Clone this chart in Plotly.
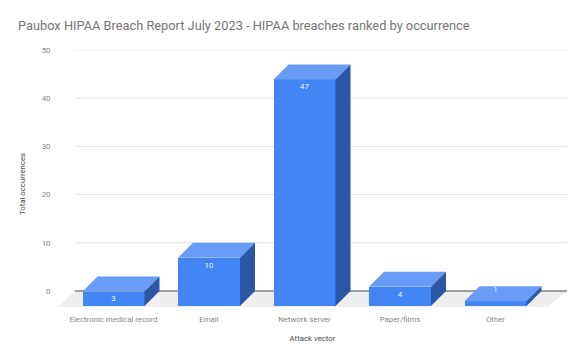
import plotly.graph_objects as go

title = "Paubox HIPAA Breach Report July 2023 - HIPAA breaches ranked by occurrence"
categories = ["Electronic medical record", "Email", "Network server", "Paper/films", "Other"]
values = [3, 10, 47, 4, 1]
y_ticks = [0, 10, 20, 30, 40, 50]
x_title = "Attack vector"
y_title = "Total occurrences"

W, H = 585, 362
L, R, T, B = 58, 18, 50, 55
PX_Y = 4.82      # pixels per y unit
PX_X = 95.5      # pixels per category
DEPTH_Y = 15 / PX_Y
DEPTH_X = 15 / PX_X
HALF = 31 / PX_X
x0 = (L - 113.5) / PX_X
x1 = (W - R - 113.5) / PX_X
y0 = -(H - B - 291) / PX_Y
y_top = 50
SMALL = 7.8
GREY = "#858585"
DARK = "#4A4A4A"

FRONT, TOP, SIDE = "#4285F4", "#689CF6", "#2A56A4"

idx = list(range(len(categories)))
fig = go.Figure()

fig.add_trace(go.Bar(x=idx, y=values, base=[-DEPTH_Y] * len(values), width=2 * HALF,
                     marker=dict(color=FRONT, line=dict(width=0)), hoverinfo="skip", showlegend=False))

for i, v in zip(idx, values):
    top_y = v - DEPTH_Y
    fig.add_trace(go.Scatter(
        x=[i - HALF, i + HALF, i + HALF + DEPTH_X, i - HALF + DEPTH_X, i - HALF],
        y=[top_y, top_y, v, v, top_y],
        mode="lines", fill="toself", fillcolor=TOP, line=dict(width=0),
        hoverinfo="skip", showlegend=False))
    fig.add_trace(go.Scatter(
        x=[i + HALF, i + HALF + DEPTH_X, i + HALF + DEPTH_X, i + HALF, i + HALF],
        y=[top_y, v, 0, -DEPTH_Y, top_y],
        mode="lines", fill="toself", fillcolor=SIDE, line=dict(width=0),
        hoverinfo="skip", showlegend=False))

# labels sit just inside the front face; if it is too short they go on the top face
label_y = [v - DEPTH_Y - 8 / PX_Y if v > 2 else v - 3.5 / PX_Y for v in values]
fig.add_trace(go.Scatter(x=idx, y=label_y, mode="text", text=[str(v) for v in values],
                         textposition="middle center",
                         textfont=dict(family="Roboto", size=SMALL, color="#F2F6FE"),
                         hoverinfo="skip", showlegend=False))

shapes = [dict(type="path", layer="below", xref="x", yref="y", line=dict(width=0), fillcolor="#EEEEEE",
               path=f"M {x0} {y0} L {x1 - DEPTH_X * 1.27} {y0} L {x1} 0 L {x0 + DEPTH_X * 1.13} 0 Z")]
for t in y_ticks:
    shapes.append(dict(type="line", layer="below", xref="x", yref="y",
                       x0=x0 + DEPTH_X * 1.13, x1=x1, y0=t, y1=t,
                       line=dict(color="#7F7F7F" if t == 0 else "#E3E3E3", width=1.3 if t == 0 else 1)))

fig.update_layout(
    width=W, height=H, autosize=False, paper_bgcolor="white", plot_bgcolor="rgba(0,0,0,0)",
    margin=dict(l=L, r=R, t=T, b=B), bargap=0, shapes=shapes, showlegend=False,
    font=dict(family="Roboto", color=GREY, size=SMALL),
    title=dict(text=title, x=18 / W, xanchor="left", xref="container", y=1 - 26 / H, yanchor="middle",
               yref="container", font=dict(family="Roboto", size=12.8, color="#757575")),
    xaxis=dict(range=[x0, x1], tickmode="array", tickvals=idx, ticktext=categories, showgrid=False,
               zeroline=False, showline=False, ticks="outside", ticklen=5, tickcolor="rgba(0,0,0,0)",
               tickfont=dict(family="Roboto", size=SMALL, color=GREY),
               title=dict(text=x_title, standoff=12, font=dict(family="Roboto", size=SMALL, color=DARK))),
    yaxis=dict(range=[y0, y_top], tickmode="array", tickvals=y_ticks, showgrid=False, zeroline=False,
               showline=False, ticks="outside", ticklen=5, tickcolor="rgba(0,0,0,0)",
               tickfont=dict(family="Roboto", size=SMALL, color=GREY)),
    annotations=[dict(text=y_title, textangle=-90, showarrow=False, xref="paper", yref="paper",
                      x=(23 - L) / (W - L - R), y=(H - B - 184) / (H - B - T),
                      xanchor="center", yanchor="middle",
                      font=dict(family="Roboto", size=SMALL, color=DARK))],
)
fig.write_html("out.html", config={"displayModeBar": False},
               post_script="document.body.style.margin='0';document.documentElement.style.overflow='hidden';")
